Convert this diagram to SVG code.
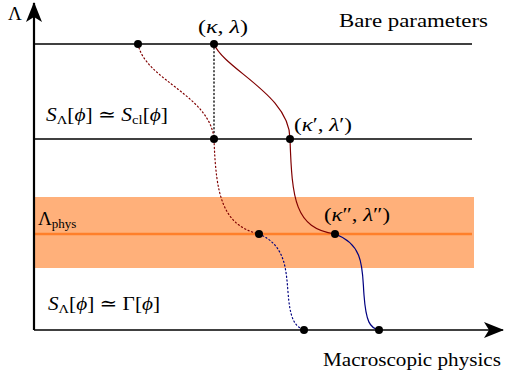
<svg xmlns="http://www.w3.org/2000/svg" width="505" height="376" viewBox="0 0 505 376">
<style>
text{font-family:'Liberation Serif','DejaVu Serif',serif;font-size:19px;fill:#000}
.i{font-style:italic}
.s{font-size:13px}
.ln{stroke:#000;stroke-width:1.3;fill:none}
.red{stroke:#800000;stroke-width:1.2;fill:none}
.blue{stroke:#000080;stroke-width:1.2;fill:none}
.dot{stroke-dasharray:1.2 2.6;stroke-linecap:round}
.pt{fill:#000}
</style>
<defs>
<marker id="ah" viewBox="0 0 20 16" refX="19" refY="8" markerWidth="20" markerHeight="16" markerUnits="userSpaceOnUse" orient="auto">
<path d="M0,0 L20,8 L0,16 L5,8 Z" fill="#000"/>
</marker>
</defs>
<g id="band">
<rect x="34" y="197" width="440" height="71" fill="#ffb07a"/>
<line x1="34" y1="234" x2="472" y2="234" stroke="#ff7f2a" stroke-width="2.5"/>
</g>
<g id="axes">
<line x1="34" y1="330" x2="34" y2="3" stroke="#000" stroke-width="2.2" marker-end="url(#ah)"/>
<line x1="34" y1="330" x2="503" y2="330" stroke="#000" stroke-width="1.3" marker-end="url(#ah)"/>
</g>
<g id="connectors">
<line class="ln" x1="34" y1="44" x2="472" y2="44"/>
<line class="ln" x1="34" y1="139" x2="472" y2="139"/>
<line class="ln dot" x1="214" y1="44" x2="214" y2="139"/>
<path class="red" d="M214,44 C225,70 290,95 290,139 C292,200 295,228 335,234"/>
<path class="blue" d="M335,234 C365,245 362,270 364,295 C366,322 370,328 379,330"/>
<path class="red dot" d="M138,44 C145,80 210,95 214,139 C216,195 222,225 259,234"/>
<path class="blue dot" d="M259,234 C285,245 286,268 288,292 C290,318 294,326 304,330"/>
</g>
<g id="points">
<circle class="pt" cx="138" cy="44" r="4"/>
<circle class="pt" cx="214" cy="44" r="4"/>
<circle class="pt" cx="214" cy="139" r="4"/>
<circle class="pt" cx="290" cy="139" r="4"/>
<circle class="pt" cx="259" cy="234" r="4"/>
<circle class="pt" cx="335" cy="234" r="4"/>
<circle class="pt" cx="304" cy="330" r="4"/>
<circle class="pt" cx="379" cy="330" r="4"/>
</g>
<g id="labels">
<text x="8" y="20">Λ</text>
<text x="198" y="33" textLength="50" lengthAdjust="spacingAndGlyphs">(<tspan class="i">κ</tspan>, <tspan class="i">λ</tspan>)</text>
<text x="339" y="27" textLength="149" lengthAdjust="spacingAndGlyphs">Bare parameters</text>
<text x="46" y="121" textLength="122" lengthAdjust="spacingAndGlyphs"><tspan class="i">S</tspan><tspan class="s" dy="3">Λ</tspan><tspan dy="-3">[</tspan><tspan class="i">ϕ</tspan>] ≃ <tspan class="i">S</tspan><tspan class="s" dy="3">cl</tspan><tspan dy="-3">[</tspan><tspan class="i">ϕ</tspan>]</text>
<text x="294" y="131" textLength="58" lengthAdjust="spacingAndGlyphs">(<tspan class="i">κ</tspan>′, <tspan class="i">λ</tspan>′)</text>
<text x="38" y="225">Λ<tspan class="s" dy="3">phys</tspan></text>
<text x="324" y="221" textLength="66" lengthAdjust="spacingAndGlyphs">(<tspan class="i">κ</tspan>″, <tspan class="i">λ</tspan>″)</text>
<text x="48" y="310" textLength="112" lengthAdjust="spacingAndGlyphs"><tspan class="i">S</tspan><tspan class="s" dy="3">Λ</tspan><tspan dy="-3">[</tspan><tspan class="i">ϕ</tspan>] ≃ Γ[<tspan class="i">ϕ</tspan>]</text>
<text x="323" y="366" textLength="178" lengthAdjust="spacingAndGlyphs">Macroscopic physics</text>
</g>
</svg>
